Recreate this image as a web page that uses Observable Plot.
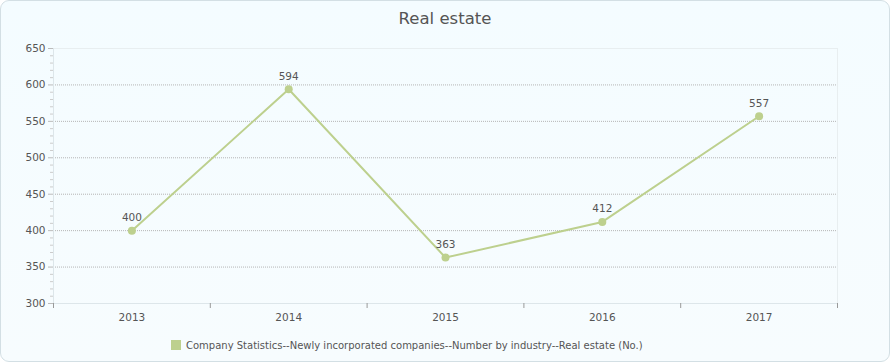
<!DOCTYPE html>
<html>
<head>
<meta charset="utf-8">
<script src="https://cdn.jsdelivr.net/npm/d3@7"></script>
<script src="https://cdn.jsdelivr.net/npm/@observablehq/plot@0.6"></script>
<style>
  html, body { margin: 0; padding: 0; background: #fff; }
  #card {
    position: relative;
    box-sizing: border-box;
    width: 890px; height: 362px;
    border: 1px solid #d3dfe4;
    border-radius: 9px;
    background: linear-gradient(#f4fcff, #f7fcfe);
    overflow: hidden;
    font-family: "DejaVu Sans", Verdana, sans-serif;
  }
  #title {
    height: 35px; line-height: 36px;
    text-align: center; font-size: 16.5px; color: #555;
  }
  #legend {
    height: 36px; display: flex; align-items: center; justify-content: flex-start;
    font-size: 10px; color: #555; padding-left: 170px; box-sizing: border-box;
  }
  #legend .sw { width: 10px; height: 10px; background: #bdd08e; margin-right: 5px; }
  svg { display: block; }
</style>
</head>
<body>
<div id="card">
  <div id="title">Real estate</div>
  <div id="chart"></div>
  <div id="legend"><span class="sw"></span><span>Company Statistics--Newly incorporated companies--Number by industry--Real estate (No.)</span></div>
</div>
<script>
const years = ["2013", "2014", "2015", "2016", "2017"];
const values = [400, 594, 363, 412, 557];
const yTicks = [300, 350, 400, 450, 500, 550, 600, 650];
const seriesName = "Company Statistics--Newly incorporated companies--Number by industry--Real estate (No.)";

const data = years.map((y, i) => ({year: +y, value: values[i]}));
const yrs = years.map(Number);
const boundaries = [yrs[0] - 0.5, ...yrs.map(y => y + 0.5)];
const minorTicks = d3.range(300, 651, 10).filter(v => v % 50 !== 0);
const lineColor = "#bdd08e";

const plot = Plot.plot({
  width: 888,
  height: 291,
  marginTop: 12,
  marginBottom: 24,
  marginLeft: 52,
  marginRight: 52,
  style: {background: "transparent", fontFamily: "DejaVu Sans, Verdana, sans-serif", fontSize: "10.5px", color: "#555"},
  x: {type: "linear", domain: [boundaries[0], boundaries[boundaries.length - 1]]},
  y: {domain: [300, 650]},
  marks: [
    Plot.ruleY(yTicks.filter(v => v > 300 && v < 650), {stroke: "#b5b5b5", strokeDasharray: "1,1", strokeWidth: 1}),
    Plot.ruleY([650], {stroke: "#e8eef0"}),
    Plot.ruleX([boundaries[boundaries.length - 1]], {stroke: "#e8eef0"}),
    Plot.ruleY([300], {stroke: "#dde6ea"}),
    Plot.ruleX([boundaries[0]], {stroke: "#dde6ea"}),
    Plot.axisY({ticks: yTicks, tickSize: 5, tickPadding: 3, stroke: "#bbb", fill: "#555", label: null}),
    Plot.axisY({ticks: minorTicks, tickSize: 3, tickFormat: () => "", stroke: "#ccc", label: null}),
    Plot.axisX({ticks: boundaries, tickSize: 5, tickFormat: () => "", stroke: "#999", label: null}),
    Plot.axisX({ticks: yrs, tickSize: 0, tickPadding: 10, tickFormat: d => String(d), fill: "#555", label: null}),
    Plot.line(data, {x: "year", y: "value", stroke: lineColor, strokeWidth: 2}),
    Plot.dot(data, {x: "year", y: "value", r: 4, fill: lineColor}),
    Plot.text(data, {x: "year", y: "value", text: d => String(d.value), dy: -13, fill: "#555", fontSize: 10.5})
  ]
});
document.getElementById("chart").appendChild(plot);
</script>
</body>
</html>
